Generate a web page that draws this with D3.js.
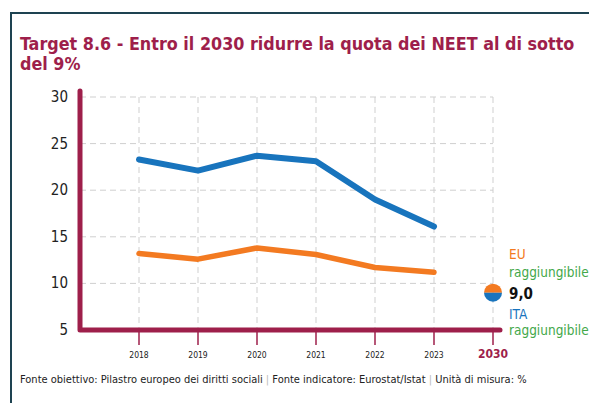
<!DOCTYPE html>
<html>
<head>
<meta charset="utf-8">
<script src="https://cdn.jsdelivr.net/npm/d3@7"></script>
<style>
  body { margin: 0; background: #fff; }
  svg { display: block; font-family: "DejaVu Sans Condensed", "DejaVu Sans", sans-serif; }
</style>
</head>
<body>
<div id="chart"></div>
<script>
// data
const years = ["2018", "2019", "2020", "2021", "2022", "2023", "2030"];
const itaValues = [23.3, 22.1, 23.7, 23.1, 19.0, 16.1];
const euValues = [13.2, 12.6, 13.8, 13.1, 11.7, 11.2];
const targetValue = 9.0;
const yTicks = [5, 10, 15, 20, 25, 30];

const W = 589, H = 403;
const maroon = "#9e1f4b", blue = "#1874bd", orange = "#f37a21", green = "#43a84a";

const svg = d3.select("#chart")
  .append("svg")
    .attr("width", W)
    .attr("height", H);

// frame
svg.append("path")
  .attr("d", `M11,${H} L11,13 L${W},13`)
  .attr("fill", "none")
  .attr("stroke", "#1e4351")
  .attr("stroke-width", 2);

// title
const title = svg.append("text")
  .attr("x", 20)
  .attr("y", 50)
  .attr("fill", maroon)
  .style("font-size", "17.8px")
  .style("font-weight", "bold");
title.append("tspan").attr("x", 20).text("Target 8.6 - Entro il 2030 ridurre la quota dei NEET al di sotto");
title.append("tspan").attr("x", 20).attr("dy", 20).text("del 9%");

// scales
const x = d3.scalePoint()
  .domain(years)
  .range([139, 493]);

const y = d3.scaleLinear()
  .domain([5, 30])
  .range([330, 97]);

// grid
const grid = svg.append("g")
  .attr("stroke", "#cfcfcf")
  .attr("stroke-width", 1)
  .attr("stroke-dasharray", "6,4");

grid.selectAll(".hgrid")
  .data(yTicks.filter(d => d > 5))
  .join("line")
    .attr("x1", 80).attr("x2", 493)
    .attr("y1", d => y(d)).attr("y2", d => y(d));

grid.selectAll(".vgrid")
  .data(years)
  .join("line")
    .attr("x1", d => x(d)).attr("x2", d => x(d))
    .attr("y1", y(30)).attr("y2", y(5));

// y axis labels
svg.append("g")
  .selectAll("text")
  .data(yTicks)
  .join("text")
    .attr("x", 68)
    .attr("y", d => y(d) + 5)
    .attr("text-anchor", "end")
    .attr("fill", "#222")
    .style("font-size", "15px")
    .text(d => d);

// x tick marks and labels
svg.append("g")
  .selectAll("line")
  .data(years)
  .join("line")
    .attr("x1", d => x(d)).attr("x2", d => x(d))
    .attr("y1", y(5)).attr("y2", y(5) + 15)
    .attr("stroke", maroon)
    .attr("stroke-width", 1.5);

svg.append("g")
  .selectAll("text")
  .data(years)
  .join("text")
    .attr("x", d => x(d))
    .attr("y", y(5) + 28)
    .attr("text-anchor", "middle")
    .attr("fill", d => d === "2030" ? maroon : "#222")
    .style("font-size", d => d === "2030" ? "12px" : "8.5px")
    .style("font-weight", d => d === "2030" ? "bold" : "normal")
    .text(d => d);

// lines
const line = d3.line()
  .x((d, i) => x(years[i]))
  .y(d => y(d));

svg.append("path")
  .datum(euValues)
  .attr("d", line)
  .attr("fill", "none")
  .attr("stroke", orange)
  .attr("stroke-width", 5.5)
  .attr("stroke-linecap", "round")
  .attr("stroke-linejoin", "round");

svg.append("path")
  .datum(itaValues)
  .attr("d", line)
  .attr("fill", "none")
  .attr("stroke", blue)
  .attr("stroke-width", 6)
  .attr("stroke-linecap", "round")
  .attr("stroke-linejoin", "round");

// axes (thick maroon)
svg.append("path")
  .attr("d", `M80,91 L80,${y(5)} L500,${y(5)}`)
  .attr("fill", "none")
  .attr("stroke", maroon)
  .attr("stroke-width", 5)
  .attr("stroke-linecap", "round")
  .attr("stroke-linejoin", "round");

// target marker: half orange, half blue
const tx = x("2030"), ty = y(targetValue), r = 9;
svg.append("path")
  .attr("d", d3.arc()({innerRadius: 0, outerRadius: r, startAngle: -Math.PI / 2, endAngle: Math.PI / 2}))
  .attr("transform", `translate(${tx},${ty})`)
  .attr("fill", orange);
svg.append("path")
  .attr("d", d3.arc()({innerRadius: 0, outerRadius: r, startAngle: Math.PI / 2, endAngle: Math.PI * 1.5}))
  .attr("transform", `translate(${tx},${ty})`)
  .attr("fill", blue);

svg.append("text")
  .attr("x", tx + 16)
  .attr("y", ty + 6)
  .attr("fill", "#111")
  .style("font-size", "15px")
  .style("font-weight", "bold")
  .text(targetValue.toFixed(1).replace(".", ","));

const labels = [
  {t: "EU", c: orange, dy: -34},
  {t: "raggiungibile", c: green, dy: -16},
  {t: "ITA", c: blue, dy: 26},
  {t: "raggiungibile", c: green, dy: 42}
];
svg.append("g")
  .selectAll("text")
  .data(labels)
  .join("text")
    .attr("x", tx + 16)
    .attr("y", d => ty + d.dy)
    .attr("fill", d => d.c)
    .style("font-size", "13.5px")
    .text(d => d.t);

// footer
const foot = svg.append("text")
  .attr("x", 20)
  .attr("y", 383)
  .attr("fill", "#222")
  .style("font-size", "11px");
foot.append("tspan").text("Fonte obiettivo: Pilastro europeo dei diritti sociali ");
foot.append("tspan").attr("fill", "#bbb").text("|");
foot.append("tspan").text(" Fonte indicatore: Eurostat/Istat ");
foot.append("tspan").attr("fill", "#bbb").text("|");
foot.append("tspan").text(" Unità di misura: %");
</script>
</body>
</html>
